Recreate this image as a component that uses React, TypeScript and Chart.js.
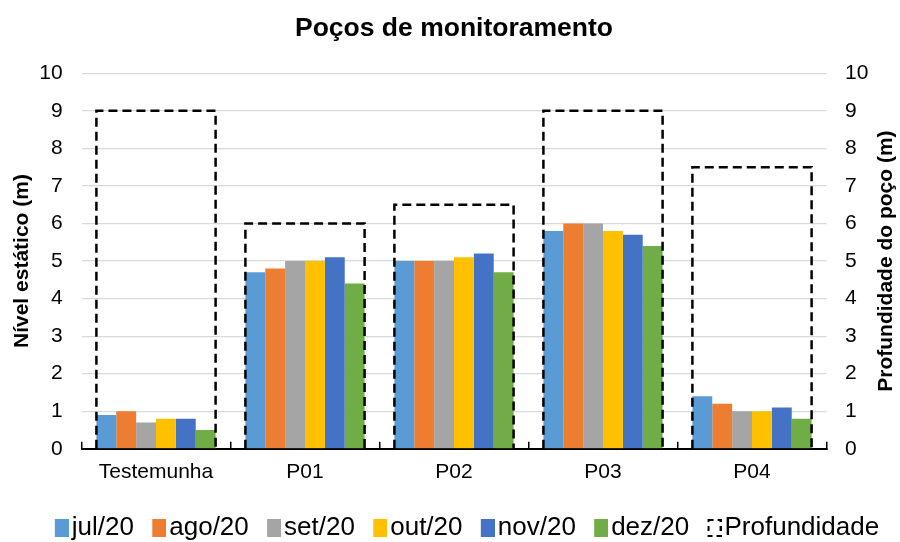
import React, { useEffect, useRef } from "react";
import { Chart, registerables } from "chart.js";

Chart.register(...registerables);

const categories = ["Testemunha", "P01", "P02", "P03", "P04"];
const seriesNames = ["jul/20", "ago/20", "set/20", "out/20", "nov/20", "dez/20"];
const jul20 = [0.9, 4.7, 5.0, 5.8, 1.4];
const ago20 = [1.0, 4.8, 5.0, 6.0, 1.2];
const set20 = [0.7, 5.0, 5.0, 6.0, 1.0];
const out20 = [0.8, 5.0, 5.1, 5.8, 1.0];
const nov20 = [0.8, 5.1, 5.2, 5.7, 1.1];
const dez20 = [0.5, 4.4, 4.7, 5.4, 0.8];
const profundidade = [9, 6, 6.5, 9, 7.5];
const profundidadeLabel = "Profundidade";
const seriesColors = ["#5B9BD5", "#ED7D31", "#A5A5A5", "#FFC000", "#4472C4", "#70AD47"];
const titleText = "Poços de monitoramento";
const leftAxisTitle = "Nível estático (m)";
const rightAxisTitle = "Profundidade do poço (m)";
const axisMin = 0;
const axisMax = 10;
const axisStep = 1;

const FONT = "'Liberation Sans', Arial, sans-serif";

// legend swatch: visible marker sits at the right part of the image so it ends close to the text
function makeSwatch(color: string | null) {
  const c = document.createElement("canvas");
  c.width = 34;
  c.height = 18;
  const g = c.getContext("2d") as CanvasRenderingContext2D;
  if (color) {
    g.fillStyle = color;
    g.fillRect(20, 0, 14, 18);
  } else {
    g.strokeStyle = "#000";
    g.lineWidth = 2;
    g.setLineDash([5, 4]);
    g.strokeRect(21, 1, 12, 16);
  }
  return c;
}

const dashedBoxes = {
  id: "dashedBoxes",
  afterDatasetsDraw(chart: any) {
    const idx = chart.data.datasets.length - 1;
    const meta = chart.getDatasetMeta(idx);
    const ctx = chart.ctx;
    ctx.save();
    ctx.strokeStyle = "#000";
    ctx.lineWidth = 2.5;
    ctx.setLineDash([9, 5]);
    meta.data.forEach((el: any) => {
      const { x, y, base, width } = el.getProps(["x", "y", "base", "width"], true);
      const l = x - width / 2;
      const r = x + width / 2;
      ctx.beginPath();
      ctx.moveTo(l, base);
      ctx.lineTo(l, y);
      ctx.lineTo(r, y);
      ctx.lineTo(r, base);
      ctx.stroke();
    });
    ctx.restore();
  },
};

const rightTitlePlugin = {
  id: "rightTitle",
  afterDraw(chart: any) {
    const s = chart.scales.y1;
    const a = chart.chartArea;
    const ctx = chart.ctx;
    ctx.save();
    ctx.translate(s.right - 34.6, (a.top + a.bottom) / 2);
    ctx.rotate(-Math.PI / 2);
    ctx.font = `bold 21px ${FONT}`;
    ctx.fillStyle = "#000";
    ctx.textAlign = "center";
    ctx.textBaseline = "middle";
    ctx.fillText(rightAxisTitle, 0, 0);
    ctx.restore();
  },
};

export default function App() {
  const ref = useRef<HTMLCanvasElement | null>(null);

  useEffect(() => {
    document.body.style.margin = "0";
    const seriesValues = [jul20, ago20, set20, out20, nov20, dez20];
    const datasets: any[] = seriesValues.map((vals, i) => ({
      type: "bar",
      label: seriesNames[i],
      data: vals,
      backgroundColor: seriesColors[i],
      borderWidth: 0,
      yAxisID: "y",
      barPercentage: 1,
      categoryPercentage: 0.8,
    }));
    datasets.push({
      type: "bar",
      label: profundidadeLabel,
      data: profundidade,
      backgroundColor: "rgba(0,0,0,0)",
      borderWidth: 0,
      yAxisID: "y1",
      grouped: false,
      barPercentage: 1,
      categoryPercentage: 0.8,
    });

    const swatches = datasets.map((ds, i) => makeSwatch(i === datasets.length - 1 ? null : ds.backgroundColor));

    const chart = new Chart(ref.current as HTMLCanvasElement, {
      type: "bar",
      data: { labels: categories, datasets },
      plugins: [dashedBoxes, rightTitlePlugin],
      options: {
        animation: false,
        responsive: true,
        maintainAspectRatio: false,
        layout: { padding: { left: 3, right: -21, top: 0, bottom: -9 } },
        plugins: {
          title: {
            display: true,
            fullSize: false,
            text: titleText,
            color: "#000",
            font: { family: FONT, size: 26.5, weight: "bold" },
            padding: { top: 12.4, bottom: 29.1 },
          },
          legend: {
            display: true,
            position: "bottom",
            title: { display: true, text: " ", padding: 0, font: { family: FONT, size: 18 } },
            labels: {
              font: { family: FONT, size: 26 },
              color: "#000",
              usePointStyle: true,
              pointStyleWidth: 14,
              boxWidth: 14,
              boxHeight: 18,
              padding: 8.3,
              generateLabels: (c: any) =>
                c.data.datasets.map((ds: any, i: number) => ({
                  text: ds.label,
                  fillStyle: ds.backgroundColor,
                  strokeStyle: ds.backgroundColor,
                  lineWidth: 0,
                  pointStyle: swatches[i],
                  fontColor: "#000",
                  hidden: false,
                  datasetIndex: i,
                })),
            },
          },
          tooltip: { enabled: false },
        },
        scales: {
          x: {
            afterFit: (s: any) => {
              s.height = 36.3;
            },
            grid: {
              display: true,
              drawOnChartArea: false,
              drawTicks: true,
              tickLength: -7,
              color: "#000",
              lineWidth: 1.5,
            },
            border: { display: true, color: "#000", width: 2 },
            ticks: { color: "#000", font: { family: FONT, size: 21 }, padding: 18.1 },
          },
          y: {
            position: "left",
            min: axisMin,
            max: axisMax,
            afterFit: (s: any) => {
              s.width = 78.5;
            },
            ticks: { stepSize: axisStep, color: "#000", font: { family: FONT, size: 21 }, padding: 18.8 },
            grid: {
              drawTicks: false,
              color: (ctx: any) => (ctx.tick && ctx.tick.value === 0 ? "rgba(0,0,0,0)" : "#D9D9D9"),
              lineWidth: 1.3,
            },
            border: { display: false },
            title: {
              display: true,
              text: leftAxisTitle,
              color: "#000",
              font: { family: FONT, size: 21, weight: "bold" },
              padding: { top: 6.4, bottom: 4.75 },
            },
          },
          y1: {
            position: "right",
            min: axisMin,
            max: axisMax,
            afterFit: (s: any) => {
              s.width = 94.5;
            },
            ticks: { stepSize: axisStep, color: "#000", font: { family: FONT, size: 21 }, padding: 18.5 },
            grid: { display: false, drawTicks: false },
            border: { display: false },
            title: {
              display: true,
              text: rightAxisTitle,
              color: "rgba(0,0,0,0)",
              font: { family: FONT, size: 21, weight: "bold" },
              padding: { top: 22, bottom: 5.45 },
            },
          },
        },
      } as any,
    });
    return () => chart.destroy();
  }, []);

  return (
    <div style={{ position: "relative", width: 900, height: 542 }}>
      <canvas ref={ref} />
    </div>
  );
}
